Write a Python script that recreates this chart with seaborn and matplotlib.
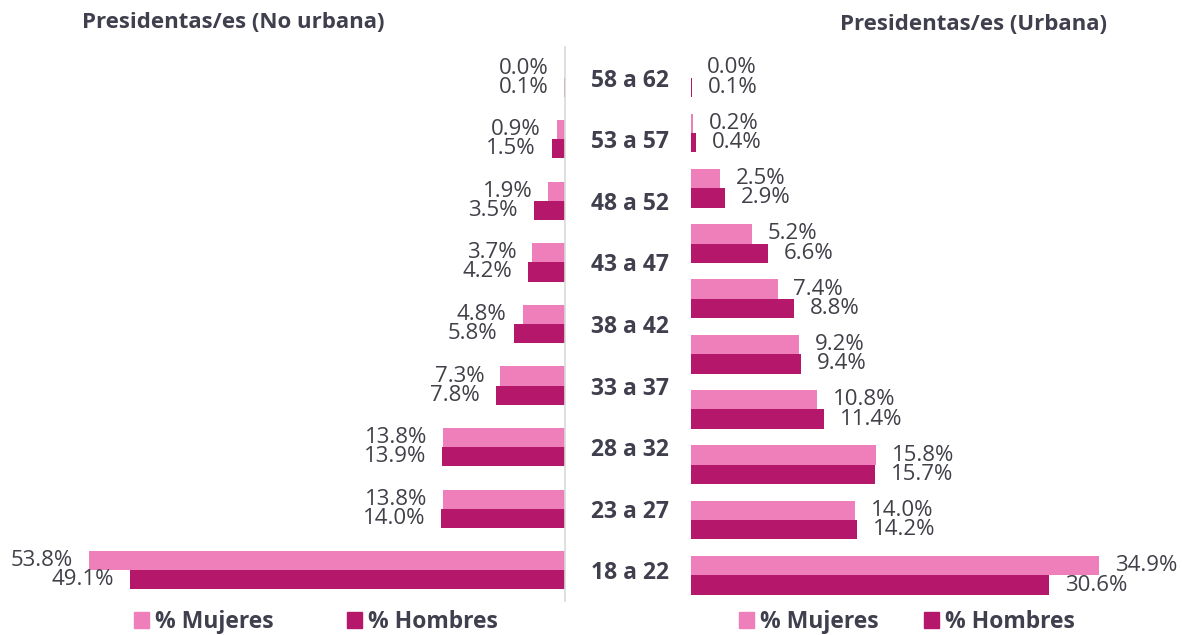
import matplotlib
matplotlib.use('agg')
import matplotlib.pyplot as plt
import matplotlib.patches as mpatches
import pandas as pd
import seaborn as sns

sns.set_theme(style='white')
plt.rcParams['font.family'] = ['Open Sans', 'DejaVu Sans']

# age groups (labels shown between the panels)
edades = ["58 a 62", "53 a 57", "48 a 52", "43 a 47", "38 a 42",
          "33 a 37", "28 a 32", "23 a 27", "18 a 22"]
# the urban panel has one more group (no label shown)
edades_urb = ["63 a 67"] + edades

no_urb_mujeres = [0.0, 0.9, 1.9, 3.7, 4.8, 7.3, 13.8, 13.8, 53.8]
no_urb_hombres = [0.1, 1.5, 3.5, 4.2, 5.8, 7.8, 13.9, 14.0, 49.1]

urb_mujeres = [0.0, 0.2, 2.5, 5.2, 7.4, 9.2, 10.8, 15.8, 14.0, 34.9]
urb_hombres = [0.1, 0.4, 2.9, 6.6, 8.8, 9.4, 11.4, 15.7, 14.2, 30.6]

series = ["% Mujeres", "% Hombres"]
colores = ["#EF7FBA", "#B5176A"]
txt_dark = "#3F3F4E"
txt_lab = "#404048"


def to_long(cats, muj, hom):
    df = pd.DataFrame({'edad': cats, series[0]: muj, series[1]: hom})
    return df.melt(id_vars='edad', var_name='sexo', value_name='pct')


W, H = 1182, 635
fig = plt.figure(figsize=(W / 100, H / 100), dpi=100)

# left panel: zero at x=565, rows from y=47 to y=601
ax_l = fig.add_axes([0, 1 - 601 / H, 565 / W, (601 - 47) / H])
# right panel: zero at x=691
ax_r = fig.add_axes([691 / W, 1 - 603 / H, (W - 691) / W, (603 - 50) / H])

df_l = to_long(edades, no_urb_mujeres, no_urb_hombres)
df_r = to_long(edades_urb, urb_mujeres, urb_hombres)

sns.barplot(data=df_l, y='edad', x='pct', hue='sexo', hue_order=series,
            palette=colores, orient='h', width=0.62, saturation=1,
            errorbar=None, legend=False, linewidth=0, ax=ax_l)
sns.barplot(data=df_r, y='edad', x='pct', hue='sexo', hue_order=series,
            palette=colores, orient='h', width=0.70, saturation=1,
            errorbar=None, legend=False, linewidth=0, ax=ax_r)

ax_l.set_xlim(565 / 8.85, 0)
ax_r.set_xlim(0, (W - 691) / 11.69)

for ax, side in ((ax_l, -1), (ax_r, 1)):
    for c in ax.containers:
        anns = ax.bar_label(c, fmt='{:.1f}%', padding=11.5, fontsize=16,
                            color=txt_lab)
        for a in anns:
            a.set_ha('right' if side < 0 else 'left')
            a.xyann = (side * 11.5, 0)
            a.set_clip_on(False)
    ax.set_xlabel('')
    ax.set_ylabel('')
    ax.set_xticks([])
    for s in ax.spines.values():
        s.set_visible(False)

ax_r.set_yticks([])

# age labels centred between the panels
ax_l.yaxis.tick_right()
ax_l.tick_params(axis='y', length=0, pad=65 * 0.72)
for t in ax_l.get_yticklabels():
    t.set_horizontalalignment('center')
    t.set_fontweight('bold')
    t.set_fontsize(16.5)
    t.set_color(txt_dark)

ax_l.spines['right'].set_visible(True)
ax_l.spines['right'].set_color('#D9D9D9')
ax_l.spines['right'].set_linewidth(1.2)

fig.text(233 / W, 1 - 22 / H, "Presidentas/es (No urbana)", ha='center', va='center',
         fontsize=16, fontweight='bold', color=txt_dark)
fig.text(974 / W, 1 - 24 / H, "Presidentas/es (Urbana)", ha='center', va='center',
         fontsize=16, fontweight='bold', color=txt_dark)

handles = [mpatches.Patch(color=c, label=s) for c, s in zip(colores, series)]
for cx, gap in ((316, 3.2), (907, 2.0)):
    fig.legend(handles=handles, loc='center', bbox_to_anchor=(cx / W, 1 - 622 / H),
               ncol=2, frameon=False, handlelength=0.65, handleheight=0.65,
               handletextpad=0.25, columnspacing=gap,
               prop={'weight': 'bold', 'size': 16.5}, labelcolor=txt_dark)

fig.savefig('out.png', dpi=100)
